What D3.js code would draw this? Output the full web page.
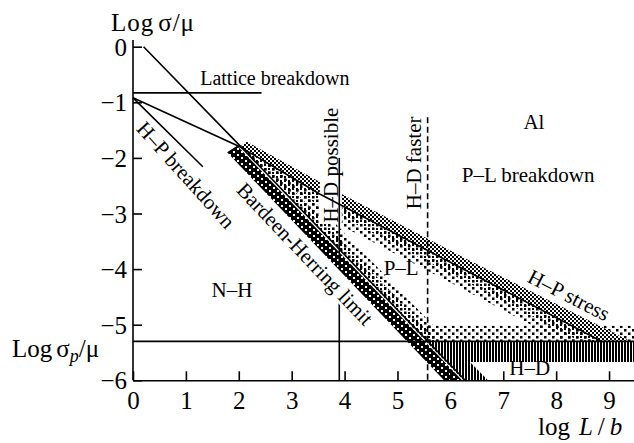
<!DOCTYPE html>
<html>
<head>
<meta charset="utf-8">
<script src="https://cdn.jsdelivr.net/npm/d3@7"></script>
<style>
  body { margin: 0; background: #fff; }
  svg text { font-family: "Liberation Serif", "Times New Roman", serif; fill: #000; }
</style>
</head>
<body>
<svg width="634" height="443"></svg>
<script>
// tick values
const xTicks = [0, 1, 2, 3, 4, 5, 6, 7, 8, 9];
const yTicks = [0, -1, -2, -3, -4, -5, -6];

// boundary lines, [logL/b, logσ/μ]
const latticeLine = [[0, -0.83], [2.43, -0.83]];
const bhEdge = [[0.2, 0], [2.02, -1.78], [6.28, -6]];
const hpLine = [[0, -0.92], [2.02, -1.8], [3.53, -2.65], [8.88, -5.31]];
const hpBreakLine = [[0, -0.92], [1.32, -2.16]];
const sigmaP = -5.3;
const hdPossibleX = 3.9;
const hdPossibleSegs = [[-2.0, -3.97], [-4.6, -6]];
const hdFasterX = 5.57;
const hdFasterTop = -1.27;

// shaded regions
const bhBand = [[1.78, -1.9], [1.97, -1.78], [6.22, -6], [5.88, -6]];
const hpTop = [[2.15, -1.71], [3.91, -2.63], [6.37, -3.85], [9.43, -5.31]];
const hpBottom = [[8.88, -5.31], [3.53, -2.65], [2.02, -1.8]];
const plRegion = [[2.02, -1.78], [3.53, -2.65], [8.88, -5.31], [5.55, -5.31]];
const plStrip = [[5.26, -5.02], [9.5, -5.02], [9.5, -5.31], [5.55, -5.31]];
const hdRegion = [[5.55, -5.31], [9.5, -5.31], [9.5, -5.67], [6.37, -5.67], [6.71, -6], [6.25, -6]];

// labels: text, x, y, angle, size
const labels = [
  ["Lattice breakdown", 1.27, -0.69, 0, 20],
  ["H–P breakdown", 1.0, -2.31, 48, 21],
  ["Bardeen-Herring limit", 3.25, -3.73, 46.5, 21],
  ["H–D faster", 5.31, -2.09, -90, 21],
  ["Al", 7.58, -1.36, 0, 21],
  ["P–L breakdown", 7.47, -2.31, 0, 21],
  ["P–L", 5.07, -3.98, 0, 21],
  ["H–P stress", 8.24, -4.47, 27, 21],
  ["N–H", 1.87, -4.38, 0, 21],
  ["H–D", 7.5, -5.78, 0, 21]
];
const boxedLabel = ["H–D possible", 3.74, -2.13, -90];

const svg = d3.select("svg");

const x = d3.scaleLinear().domain([0, 9.5]).range([133, 635.5]);
const y = d3.scaleLinear().domain([-6, 0]).range([380.3, 46.7]);
const line = d3.line().x(d => x(d[0])).y(d => y(d[1]));
const poly = pts => line(pts) + "Z";

// patterns
const defs = svg.append("defs");
let makePattern = (id, w, h, bg, fg, rects) => {
  let p = defs.append("pattern").attr("id", id)
    .attr("patternUnits", "userSpaceOnUse")
    .attr("width", w).attr("height", h);
  if (bg) p.append("rect").attr("width", w).attr("height", h).attr("fill", bg);
  rects.forEach(r => p.append("rect")
    .attr("x", r[0]).attr("y", r[1]).attr("width", r[2]).attr("height", r[3])
    .attr("fill", fg));
};
makePattern("bh", 8, 6, "#000", "#fff", [[1, 1, 2, 2], [5, 4, 2, 2]]);
makePattern("hp", 4, 4, "#fff", "#000", [[0, 0, 2, 2], [2, 2, 2, 2]]);
makePattern("med", 4, 4, null, "#000", [[0, 0, 2, 2]]);
makePattern("sparse", 8, 7, null, "#000", [[0, 0, 2.5, 2.5], [4, 3.5, 2.5, 2.5]]);
makePattern("hd", 3, 10, null, "#000", [[0, 0, 2, 10]]);

defs.append("clipPath").attr("id", "plClip")
  .append("path").attr("d", poly(plRegion));

// P-L dotted area
svg.append("path").attr("d", poly(plStrip)).attr("fill", "url(#sparse)");

let pl = svg.append("g").attr("clip-path", "url(#plClip)");
[[hpLine.slice(1), 36, "sparse"], [hpLine.slice(1), 20, "med"],
 [bhEdge.slice(1), 30, "sparse"], [bhEdge.slice(1), 16, "med"]].forEach(s => {
  pl.append("path").attr("d", line(s[0]))
    .attr("fill", "none")
    .attr("stroke", "url(#" + s[2] + ")")
    .attr("stroke-width", s[1]);
});

// H-P stress band
svg.append("path").attr("d", poly(hpTop.concat(hpBottom))).attr("fill", "url(#hp)");

// H-D region
svg.append("path").attr("d", poly(hdRegion)).attr("fill", "url(#hd)");

// Bardeen-Herring band
svg.append("path").attr("d", poly(bhBand)).attr("fill", "url(#bh)");

// label with white knockout box
let bl = svg.append("text")
  .attr("transform", "translate(" + x(boxedLabel[1]) + "," + y(boxedLabel[2]) + ") rotate(" + boxedLabel[3] + ")")
  .attr("text-anchor", "middle")
  .attr("dominant-baseline", "central")
  .attr("font-size", 21)
  .text(boxedLabel[0]);
let bb = bl.node().getBBox();
svg.insert("rect", () => bl.node())
  .attr("transform", bl.attr("transform"))
  .attr("x", bb.x - 1).attr("y", bb.y + 1)
  .attr("width", bb.width + 2).attr("height", bb.height - 2)
  .attr("fill", "#fff");

// lines
let lines = svg.append("g").attr("fill", "none").attr("stroke", "#000").attr("stroke-width", 1.6);
[latticeLine, bhEdge, hpLine, hpBreakLine].forEach(l => {
  lines.append("path").attr("d", line(l));
});
lines.append("path").attr("d", line([[0, sigmaP], [9.5, sigmaP]]));
hdPossibleSegs.forEach(s => {
  lines.append("path").attr("d", line([[hdPossibleX, s[0]], [hdPossibleX, s[1]]]));
});
lines.append("path").attr("d", line([[hdFasterX, hdFasterTop], [hdFasterX, -6]]))
  .attr("stroke-dasharray", "6,3.5");

// axes
let xAxis = d3.axisBottom(x).tickValues(xTicks).tickSizeInner(-9).tickSizeOuter(0)
  .tickPadding(11).tickFormat(d3.format("d"));
let gx = svg.append("g").attr("transform", "translate(0," + y(-6) + ")").call(xAxis);

let yAxis = d3.axisLeft(y).tickValues(yTicks).tickSizeInner(-9).tickSizeOuter(0)
  .tickPadding(6).tickFormat(d => d === 0 ? "0" : "\u2212" + (-d));
let gy = svg.append("g").attr("transform", "translate(" + x(0) + ",0)").call(yAxis);
gy.select(".domain").remove();
gy.append("line").attr("x1", 0).attr("x2", 0)
  .attr("y1", y(-6)).attr("y2", y(0.12))
  .attr("stroke", "#000").attr("stroke-width", 1.6);

[gx, gy].forEach(g => {
  g.attr("font-family", null).attr("font-size", 25);
  g.selectAll("path, line").attr("stroke-width", 1.6);
});
gy.selectAll(".tick text").attr("dy", null).attr("dominant-baseline", "central");

// axis titles
let t1 = svg.append("text").attr("x", 111).attr("y", 31).attr("font-size", 25)
  .attr("textLength", 83).attr("lengthAdjust", "spacing");
t1.append("tspan").text("Log");
t1.append("tspan").attr("dx", 4).text("σ/μ");

let t2 = svg.append("text").attr("x", 12).attr("y", 357).attr("font-size", 25);
t2.append("tspan").text("Log");
t2.append("tspan").attr("dx", 4).text("σ");
t2.append("tspan").attr("font-style", "italic").attr("font-size", 18).attr("dy", 5).text("p");
t2.append("tspan").attr("dy", -5).text("/μ");

let t3 = svg.append("text").attr("x", 538).attr("y", 435).attr("font-size", 25);
t3.append("tspan").text("log");
t3.append("tspan").attr("dx", 9).attr("font-style", "italic").text("L");
t3.append("tspan").attr("dx", 5).text("/");
t3.append("tspan").attr("dx", 5).attr("font-style", "italic").text("b");

// in-plot labels
labels.forEach(l => {
  let t = svg.append("text")
    .attr("transform", "translate(" + x(l[1]) + "," + y(l[2]) + ") rotate(" + l[3] + ")")
    .attr("dominant-baseline", "central")
    .attr("font-size", l[4])
    .text(l[0]);
  if (l[0] === "Lattice breakdown") t.attr("text-anchor", "start").attr("dominant-baseline", null);
  else t.attr("text-anchor", "middle");
  if (l[0] === "Bardeen-Herring limit") {
    t.attr("stroke", "#fff").attr("stroke-width", 5).attr("paint-order", "stroke");
  }
});
</script>
</body>
</html>
